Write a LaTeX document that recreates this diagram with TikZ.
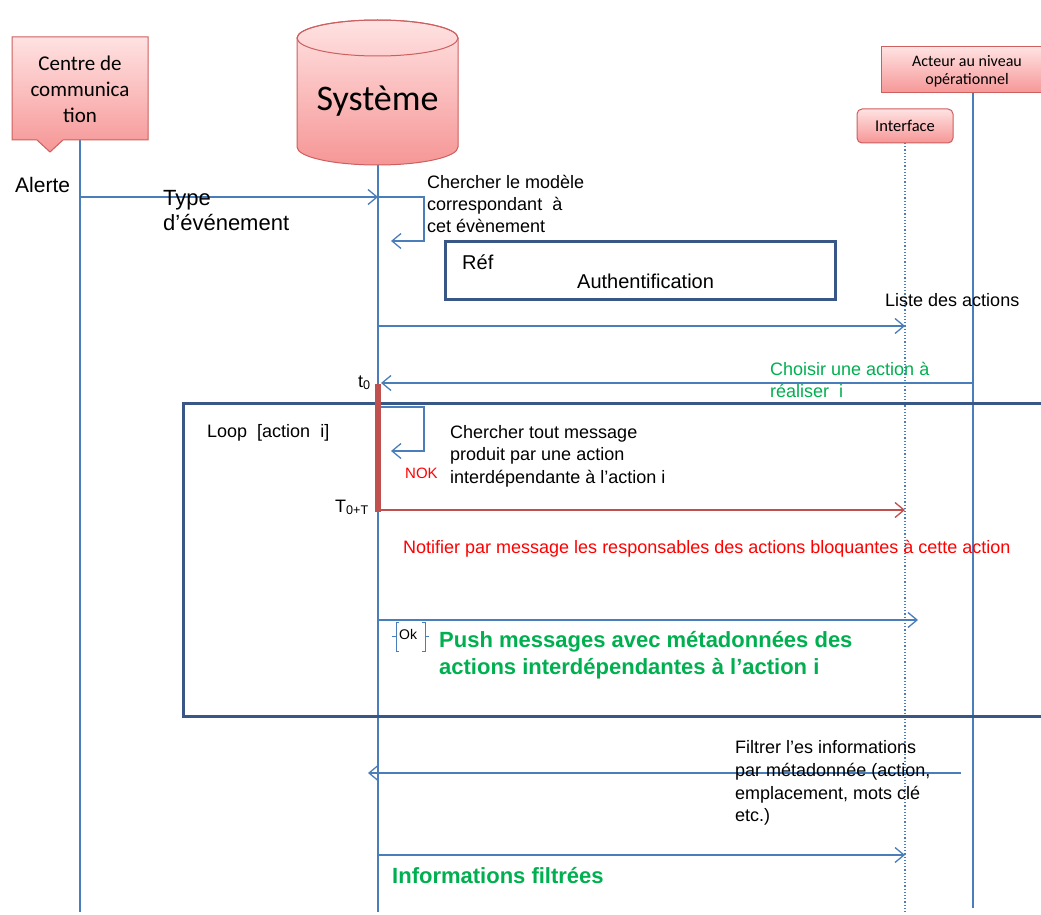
\documentclass[tikz,border=0pt]{standalone}
\usepackage{fontspec}
\setmainfont{Liberation Sans}
\newfontfamily\calib{Carlito}
\usetikzlibrary{arrows.meta}
\definecolor{lblue}{RGB}{74,126,187}
\definecolor{fblue}{RGB}{56,87,135}
\definecolor{bred}{RGB}{192,80,77}
\definecolor{tred}{RGB}{255,0,0}
\definecolor{tgreen}{RGB}{0,176,80}
\definecolor{pinktop}{RGB}{255,226,226}
\definecolor{pinkbot}{RGB}{246,150,150}
\definecolor{pinkline}{RGB}{205,95,95}
\begin{document}
\begin{tikzpicture}[x=1pt,y=-1pt,
  life/.style={draw=lblue,line width=1.3pt},
  msg/.style={draw=lblue,line width=1.5pt,-{Straight Barb[length=9pt,width=15pt,line width=1.3pt]}},
  redmsg/.style={draw=bred,line width=1.5pt,-{Straight Barb[length=9pt,width=15pt,line width=1.3pt]}},
  selfmsg/.style={draw=lblue,line width=1.3pt,-{Straight Barb[length=9pt,width=15pt,line width=1.3pt]}},
  frame/.style={draw=fblue,line width=3pt},
  pinkbox/.style={top color=pinktop,bottom color=pinkbot,draw=pinkline,line width=1pt},
  t/.style={font=\fontsize{18}{21}\selectfont,inner sep=0pt,anchor=base west},
  tbig/.style={font=\fontsize{22}{25}\selectfont,inner sep=0pt,anchor=base west},
  tref/.style={font=\fontsize{20}{23}\selectfont,inner sep=0pt,anchor=base west},
  tgr/.style={font=\fontsize{22}{25}\selectfont\bfseries,text=tgreen,inner sep=0pt,anchor=base west},
  blabel/.style={font=\calib,align=center,inner sep=0pt},
]
\useasboundingbox (0,0) rectangle (1041,915);
\fill[white] (0,0) rectangle (1041,915);

% ---------- lifelines ----------
\coordinate (cL0) at (80,140);  \coordinate (cL1) at (80,912);
\coordinate (sL0) at (378,165); \coordinate (sL1) at (378,912);
\coordinate (iL0) at (905,143); \coordinate (iL1) at (905,912);
\coordinate (aL0) at (973,93);  \coordinate (aL1) at (973,908);
\draw[life] (cL0) -- (cL1);
\draw[life] (sL0) -- (sL1);
\draw[draw=lblue,line width=1.2pt,dotted] (iL0) -- (iL1);
\draw[life] (aL0) -- (aL1);

% ---------- Centre de communication (callout) ----------
\path[pinkbox] (12,37) -- (148,37) -- (148,140) -- (63,140) -- (50,152) -- (37,140) -- (12,140) -- cycle;
\node[blabel,font=\calib\fontsize{21}{26}\selectfont] (centre) at (80,89) {Centre de\\communica\\tion};

% ---------- Systeme (cylinder) ----------
\path[pinkbox] (297,38) -- (297,147) arc[start angle=180,end angle=0,x radius=80.5,y radius=18]
   -- (458,38) arc[start angle=0,end angle=-180,x radius=80.5,y radius=18] -- cycle;
\draw[draw=pinkline,line width=1pt] (377.5,38) ellipse [x radius=80.5,y radius=18];
\node[blabel,font=\calib\fontsize{36}{40}\selectfont] (sys) at (377.5,101) {Système};

% ---------- Acteur / Interface ----------
\path[pinkbox] (881,47) rectangle (1055,93);
\node[blabel,font=\calib\fontsize{16}{18}\selectfont] (acteur) at (967,71) {Acteur au niveau\\opérationnel};
\path[pinkbox,rounded corners=5pt] (857,109) rectangle (953,143);
\node[blabel,font=\calib\fontsize{16.5}{18}\selectfont] (iface) at (905,126) {Interface};

% ---------- messages ----------
\coordinate (m1a) at (80,197); \coordinate (m1b) at (378,197);
\draw[msg] (m1a) -- (m1b);
\node[tbig,font=\fontsize{21}{25}\selectfont] (alerte) at (15,192) {Alerte};
\node[tbig] (type1) at (163,205) {Type};
\node[tbig] (type2) at (163,230) {d’événement};

\coordinate (s1a) at (378,197); \coordinate (s1b) at (391,241);
\draw[selfmsg] (s1a) -- (424,197) -- (424,241) -- (s1b);
\node[t] (ch1) at (427,188) {Chercher le modèle};
\node[t] (ch2) at (427,210) {correspondant\ \ à};
\node[t] (ch3) at (427,232) {cet évènement};

\draw[frame] (445,241) rectangle (835,299);
\node[tref] (ref) at (462,269) {Réf};
\node[tref] (auth) at (577,288) {Authentification};

\coordinate (m2a) at (378,326); \coordinate (m2b) at (905,326);
\draw[msg] (m2a) -- (m2b);
\node[t] (liste) at (885,306) {Liste des actions};

\coordinate (m3a) at (973,383); \coordinate (m3b) at (381,383);
\draw[msg] (m3a) -- (m3b);
\node[t,text=tgreen] (cho1) at (770,375) {Choisir une action à};
\node[t,text=tgreen] (cho2) at (770,397) {réaliser\ \ i};
\node[t] (t0) at (358,387) {t\textsubscript{0}};

% ---------- loop frame ----------
\draw[frame] (183,403) rectangle (1060,716);
\node[t] (loop) at (207,437) {Loop\ \ [action\ \ i]};

\fill[bred] (375,384) rectangle (381,512);
\node (bar) at (378,448) {};

\coordinate (s2a) at (381,407); \coordinate (s2b) at (391,451);
\draw[selfmsg] (s2a) -- (424,407) -- (424,451) -- (s2b);
\node[t,font=\fontsize{15}{16}\selectfont,text=tred] (nok) at (405,478) {NOK};
\node[t] (ct1) at (450,438) {Chercher tout message};
\node[t] (ct2) at (450,460) {produit par une action};
\node[t] (ct3) at (450,483) {interdépendante à l’action i};

\node[t] (T0T) at (335,512) {T\textsubscript{0+T}};
\coordinate (m4a) at (381,510); \coordinate (m4b) at (905,510);
\draw[redmsg] (m4a) -- (m4b);
\node[t,text=tred] (notif) at (403,553) {Notifier par message les responsables des actions bloquantes à cette action};

\coordinate (m5a) at (378,620); \coordinate (m5b) at (918,620);
\draw[msg] (m5a) -- (m5b);
\draw[draw=lblue,line width=1pt] (399,622) -- (396,622) -- (396,651) -- (399,651) (396,636) -- (392,636);
\draw[draw=lblue,line width=1pt] (422,622) -- (425,622) -- (425,651) -- (422,651) (425,636) -- (429,636);
\node[t,font=\fontsize{14}{15}\selectfont] (ok) at (399,639) {Ok};
\node[tgr] (push1) at (439,647) {Push messages avec métadonnées des};
\node[tgr] (push2) at (439,674) {actions interdépendantes à l’action i};

% ---------- after loop ----------
\coordinate (m6a) at (961,773); \coordinate (m6b) at (368,773);
\draw[msg] (m6a) -- (m6b);
\node[t] (f1) at (735,753) {Filtrer l’es informations};
\node[t] (f2) at (735,776) {par métadonnée (action,};
\node[t] (f3) at (735,799) {emplacement, mots clé};
\node[t] (f4) at (735,821) {etc.)};

\coordinate (m7a) at (378,855); \coordinate (m7b) at (905,855);
\draw[msg] (m7a) -- (m7b);
\node[tgr] (info) at (392,883) {Informations filtrées};
\end{tikzpicture}
\end{document}
